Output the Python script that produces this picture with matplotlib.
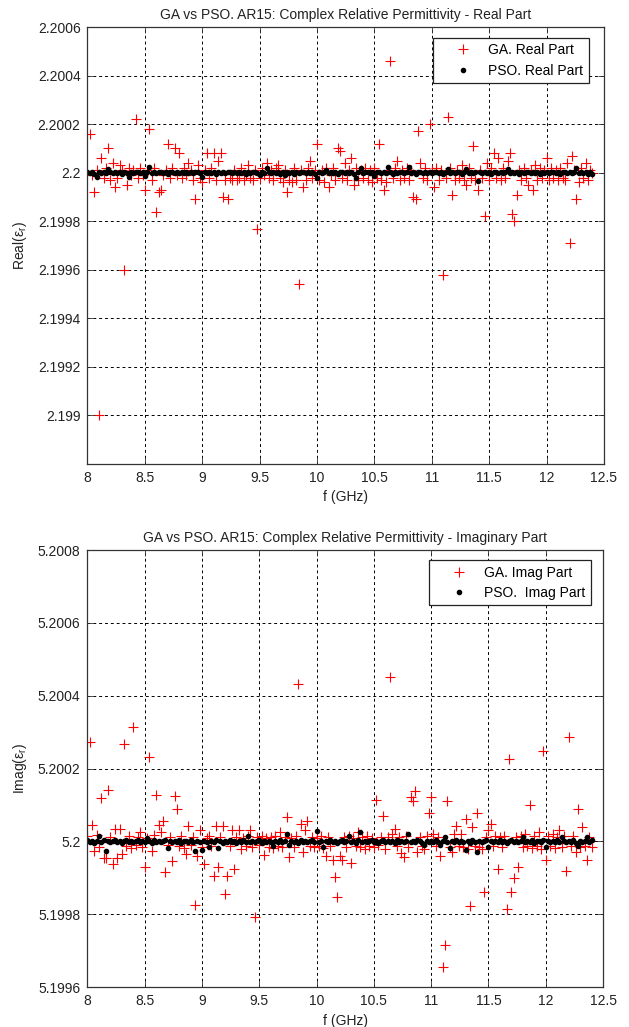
import numpy as np
import matplotlib
matplotlib.use("Agg")
import matplotlib.pyplot as plt

plt.rcParams['font.family'] = ['Liberation Sans', 'DejaVu Sans']
plt.rcParams['mathtext.fontset'] = 'custom'
plt.rcParams['mathtext.rm'] = 'Liberation Sans'
plt.rcParams['mathtext.it'] = 'Liberation Sans'
plt.rcParams['mathtext.default'] = 'regular'

# Frequency sweep, 8.0 to 12.4 GHz in 0.02 GHz steps
freq = np.linspace(8.0, 12.4, 221)

ga_real = [
    2.20000, 2.20016, 2.19999, 2.19992, 2.20001, 2.19900, 2.20006, 2.19998, 2.20002, 2.20010,
    2.19997, 2.20004, 2.19994, 2.19998, 2.20003, 2.20001, 2.19960, 2.19995, 2.20002, 2.19999,
    2.20001, 2.20022, 2.19998, 2.20002, 2.19999, 2.19993, 2.20001, 2.20018, 2.19997, 2.20002,
    2.19984, 2.19992, 2.19993, 2.19999, 2.20001, 2.20012, 2.19998, 2.20002, 2.20010, 2.19999,
    2.20008, 2.19998, 2.20002, 2.19999, 2.20004, 2.20001, 2.19997, 2.19989, 2.20003, 2.19998,
    2.19996, 2.20001, 2.20008, 2.19998, 2.20002, 2.20008, 2.19997, 2.20005, 2.20008, 2.19990,
    2.19997, 2.19989, 2.19998, 2.19997, 2.20001, 2.19997, 2.19998, 2.20002, 2.19997, 2.19999,
    2.20003, 2.19998, 2.19997, 2.20001, 2.19977, 2.19998, 2.20002, 2.19999, 2.20004, 2.19998,
    2.20001, 2.19997, 2.20002, 2.20003, 2.19998, 2.19996, 2.20001, 2.19992, 2.19997, 2.19996,
    2.20002, 2.19997, 2.19954, 2.20001, 2.19994, 2.19997, 2.20002, 2.20005, 2.19998, 2.20001,
    2.20012, 2.19997, 2.20001, 2.19996, 2.20002, 2.19994, 2.19999, 2.20002, 2.19997, 2.20010,
    2.20009, 2.19998, 2.20004, 2.19997, 2.20001, 2.20006, 2.19995, 2.20002, 2.19997, 2.20001,
    2.19998, 2.20002, 2.19997, 2.20001, 2.19996, 2.20002, 2.19998, 2.20012, 2.19997, 2.19993,
    2.19996, 2.20001, 2.20046, 2.19998, 2.20002, 2.20005, 2.19997, 2.20001, 2.19998, 2.20002,
    2.19997, 2.20001, 2.19990, 2.19989, 2.20017, 2.20004, 2.19998, 2.20002, 2.19997, 2.20020,
    2.20001, 2.19994, 2.20002, 2.19997, 2.20001, 2.19958, 2.19998, 2.20023, 2.20002, 2.19991,
    2.19997, 2.20001, 2.19998, 2.20003, 2.19997, 2.19995, 2.20002, 2.19998, 2.20011, 2.19997,
    2.19993, 2.20001, 2.19998, 2.19982, 2.20004, 2.19997, 2.20002, 2.20008, 2.19998, 2.20006,
    2.19997, 2.20002, 2.19998, 2.20005, 2.20008, 2.19983, 2.19980, 2.19991, 2.20001, 2.19997,
    2.20002, 2.19998, 2.19995, 2.20001, 2.19993, 2.20003, 2.19997, 2.20002, 2.19998, 2.20001,
    2.20006, 2.19997, 2.20002, 2.19998, 2.20001, 2.19997, 2.20002, 2.19998, 2.19997, 2.20004,
    2.19971, 2.20007, 2.20001, 2.19989, 2.19996, 2.20002, 2.19998, 2.20004, 2.19997, 2.20001,
    2.20000,
]

pso_real = [
    2.200002, 2.199997, 2.200001, 2.199996, 2.199983, 2.200003, 2.199998, 2.200001, 2.199997, 2.200014,
    2.200004, 2.199998, 2.200002, 2.199999, 2.200003, 2.199996, 2.200001, 2.199998, 2.199983, 2.200002,
    2.199998, 2.200003, 2.200001, 2.199997, 2.200002, 2.199986, 2.200001, 2.200025, 2.199998, 2.200002,
    2.199997, 2.200001, 2.200003, 2.199998, 2.200002, 2.199996, 2.200001, 2.200004, 2.199998, 2.200001,
    2.199997, 2.200002, 2.199999, 2.200003, 2.199997, 2.200001, 2.199998, 2.200002, 2.200004, 2.199997,
    2.199982, 2.200001, 2.199997, 2.200003, 2.199998, 2.200001, 2.199996, 2.200002, 2.199999, 2.200003,
    2.199997, 2.200001, 2.200004, 2.199998, 2.200002, 2.199997, 2.200001, 2.199999, 2.200003, 2.199996,
    2.200002, 2.199998, 2.200001, 2.200004, 2.199997, 2.199989, 2.200002, 2.199998, 2.200018, 2.200001,
    2.199997, 2.200002, 2.199999, 2.200003, 2.199996, 2.200001, 2.199989, 2.200002, 2.199998, 2.200001,
    2.199996, 2.200003, 2.199998, 2.200001, 2.200004, 2.199997, 2.200002, 2.199999, 2.200001, 2.199996,
    2.199977, 2.200002, 2.199998, 2.200003, 2.200012, 2.199997, 2.200001, 2.199998, 2.200002, 2.199996,
    2.200001, 2.200004, 2.199997, 2.200002, 2.199998, 2.200001, 2.199996, 2.199980, 2.200002, 2.200020,
    2.199998, 2.200001, 2.200003, 2.199997, 2.200002, 2.199986, 2.200001, 2.200004, 2.199997, 2.200002,
    2.199998, 2.200024, 2.200001, 2.199996, 2.200003, 2.199998, 2.200001, 2.200002, 2.199997, 2.200003,
    2.200024, 2.199998, 2.200001, 2.199996, 2.200003, 2.200001, 2.199997, 2.200002, 2.199998, 2.200004,
    2.199997, 2.200001, 2.200003, 2.199998, 2.200002, 2.199996, 2.200001, 2.200015, 2.199998, 2.200002,
    2.199997, 2.200003, 2.200001, 2.199996, 2.200002, 2.200016, 2.199998, 2.200001, 2.199997, 2.200003,
    2.199965, 2.200001, 2.199997, 2.200002, 2.199998, 2.200004, 2.199996, 2.200001, 2.200003, 2.199997,
    2.200002, 2.199998, 2.200001, 2.200016, 2.199997, 2.200003, 2.199998, 2.200001, 2.199996, 2.200002,
    2.199998, 2.200001, 2.200004, 2.199997, 2.200002, 2.199998, 2.200001, 2.199996, 2.200003, 2.199998,
    2.200002, 2.199997, 2.200001, 2.200004, 2.199998, 2.200002, 2.199996, 2.200001, 2.200003, 2.199997,
    2.200001, 2.199998, 2.200002, 2.200018, 2.199997, 2.200001, 2.199998, 2.200003, 2.199996, 2.200002,
    2.199995,
]

ga_imag = [
    5.200015, 5.200273, 5.200046, 5.199973, 5.200018, 5.199985, 5.200119, 5.199955, 5.199955, 5.200140,
    5.200012, 5.199938, 5.200035, 5.199955, 5.200035, 5.199965, 5.200267, 5.199988, 5.200015, 5.199982,
    5.200313, 5.199990, 5.200012, 5.200027, 5.199985, 5.199930, 5.200010, 5.200232, 5.199973, 5.200018,
    5.200128, 5.200046, 5.200025, 5.200055, 5.199915, 5.199990, 5.200012, 5.199945, 5.200126, 5.200090,
    5.199988, 5.200015, 5.199982, 5.199966, 5.200041, 5.199990, 5.200012, 5.199826, 5.199960, 5.200030,
    5.199985, 5.199939, 5.200010, 5.200015, 5.199988, 5.199906, 5.200041, 5.199930, 5.200012, 5.200041,
    5.199856, 5.199906, 5.199988, 5.200030, 5.199924, 5.200012, 5.200030, 5.199980, 5.200010, 5.199988,
    5.200015, 5.200030, 5.199985, 5.199792, 5.200012, 5.199990, 5.200015, 5.199963, 5.200010, 5.199985,
    5.200012, 5.199982, 5.200015, 5.199988, 5.200025, 5.199985, 5.200012, 5.200067, 5.199956, 5.200010,
    5.199985, 5.200015, 5.200433, 5.200048, 5.199970, 5.200030, 5.200055, 5.199988, 5.200012, 5.199985,
    5.200010, 5.199988, 5.200015, 5.199982, 5.199960, 5.200012, 5.199988, 5.199950, 5.199902, 5.199846,
    5.199960, 5.199950, 5.200012, 5.199985, 5.200015, 5.199940, 5.200010, 5.199988, 5.200027, 5.199985,
    5.200012, 5.199980, 5.200015, 5.199988, 5.200010, 5.199985, 5.200113, 5.199990, 5.200012, 5.200071,
    5.199980, 5.200012, 5.200451, 5.200020, 5.200034, 5.199988, 5.200012, 5.199968, 5.199956, 5.200015,
    5.199985, 5.200121, 5.200110, 5.200139, 5.199970, 5.200012, 5.199988, 5.199980, 5.200015, 5.200078,
    5.200122, 5.200020, 5.199988, 5.200012, 5.199959, 5.199655, 5.199716, 5.200110, 5.199985, 5.199970,
    5.200020, 5.200041, 5.199988, 5.200020, 5.199985, 5.200062, 5.199980, 5.199823, 5.200040, 5.199988,
    5.200078, 5.199985, 5.199980, 5.199861, 5.200012, 5.200030, 5.200048, 5.199988, 5.200015, 5.199924,
    5.200012, 5.199985, 5.200015, 5.199815, 5.200227, 5.199860, 5.199900, 5.200012, 5.199930, 5.200015,
    5.199985, 5.200020, 5.199988, 5.200100, 5.199982, 5.200015, 5.199988, 5.200025, 5.199980, 5.200249,
    5.199950, 5.200015, 5.199988, 5.200020, 5.199982, 5.200012, 5.200030, 5.199985, 5.200015, 5.199920,
    5.200286, 5.199988, 5.200015, 5.199970, 5.200090, 5.199985, 5.200040, 5.199988, 5.199950, 5.200012,
    5.199985,
]

pso_imag = [
    5.200003, 5.199997, 5.200002, 5.199996, 5.200001, 5.200016, 5.199998, 5.200003, 5.199974, 5.200002,
    5.199997, 5.200001, 5.200004, 5.199998, 5.200002, 5.199996, 5.200001, 5.200003, 5.199997, 5.200002,
    5.199998, 5.200001, 5.200004, 5.199997, 5.200002, 5.199998, 5.200009, 5.200001, 5.199996, 5.200003,
    5.199998, 5.200002, 5.199997, 5.200001, 5.200004, 5.199982, 5.200001, 5.199997, 5.200002, 5.199998,
    5.200003, 5.199996, 5.200001, 5.200002, 5.199997, 5.200003, 5.199998, 5.199974, 5.200002, 5.199997,
    5.199977, 5.200002, 5.199998, 5.199985, 5.200001, 5.199997, 5.200003, 5.199982, 5.200001, 5.199996,
    5.200002, 5.199998, 5.200003, 5.199997, 5.200001, 5.199996, 5.200002, 5.199998, 5.200004, 5.199997,
    5.200014, 5.199998, 5.200002, 5.199997, 5.200001, 5.200003, 5.199996, 5.200002, 5.199998, 5.200001,
    5.199997, 5.199988, 5.200002, 5.199998, 5.200003, 5.199997, 5.200001, 5.200019, 5.199989, 5.200002,
    5.199998, 5.200001, 5.199996, 5.200003, 5.199998, 5.200002, 5.199997, 5.200001, 5.200004, 5.199997,
    5.200029, 5.199998, 5.200002, 5.199984, 5.200001, 5.199997, 5.200003, 5.199998, 5.200002, 5.199996,
    5.200001, 5.200003, 5.199997, 5.200002, 5.200014, 5.199998, 5.200001, 5.199996, 5.200003, 5.200025,
    5.199998, 5.200002, 5.199997, 5.200001, 5.200004, 5.199998, 5.200002, 5.199996, 5.200001, 5.200003,
    5.199997, 5.200002, 5.199998, 5.200001, 5.199996, 5.200003, 5.199998, 5.200002, 5.199997, 5.200001,
    5.200020, 5.199998, 5.200002, 5.199997, 5.200003, 5.200001, 5.199996, 5.199989, 5.200002, 5.199998,
    5.200001, 5.199997, 5.200003, 5.199998, 5.199989, 5.200002, 5.200011, 5.199997, 5.199982, 5.200001,
    5.199998, 5.200003, 5.199997, 5.200002, 5.199998, 5.199977, 5.200001, 5.199996, 5.200003, 5.199998,
    5.199971, 5.200002, 5.199997, 5.200001, 5.200003, 5.199984, 5.200002, 5.199998, 5.200001, 5.199997,
    5.200003, 5.199998, 5.200002, 5.199996, 5.200001, 5.200003, 5.199997, 5.200002, 5.199998, 5.200001,
    5.200012, 5.199997, 5.200002, 5.199998, 5.200003, 5.199996, 5.200001, 5.200002, 5.199997, 5.200003,
    5.199985, 5.200002, 5.199998, 5.200001, 5.199997, 5.200003, 5.199998, 5.200013, 5.200001, 5.199997,
    5.200002, 5.199998, 5.200003, 5.199996, 5.199988, 5.200001, 5.199997, 5.200002, 5.200012, 5.199998,
    5.200003,
]

x_ticks = [8, 8.5, 9, 9.5, 10, 10.5, 11, 11.5, 12, 12.5]
x_tick_labels = ['8', '8.5', '9', '9.5', '10', '10.5', '11', '11.5', '12', '12.5']
real_ticks = [2.199, 2.1992, 2.1994, 2.1996, 2.1998, 2.2, 2.2002, 2.2004, 2.2006]
real_tick_labels = ['2.199', '2.1992', '2.1994', '2.1996', '2.1998', '2.2', '2.2002', '2.2004', '2.2006']
imag_ticks = [5.1996, 5.1998, 5.2, 5.2002, 5.2004, 5.2006, 5.2008]
imag_tick_labels = ['5.1996', '5.1998', '5.2', '5.2002', '5.2004', '5.2006', '5.2008']

TEXT = '#222222'
FS = 10

fig = plt.figure(figsize=(6.29, 10.27), dpi=100)
fig.patch.set_facecolor('white')


def style_axes(ax, yticks, ylabels, ylim):
    ax.set_xlim(8, 12.5)
    ax.set_ylim(*ylim)
    ax.set_xticks(x_ticks)
    ax.set_xticklabels(x_tick_labels)
    ax.set_yticks(yticks)
    ax.set_yticklabels(ylabels)
    ax.tick_params(direction='in', length=4, width=0.6, top=True, right=True,
                   labelsize=FS, labelcolor=TEXT, color='#333333', pad=5)
    ax.grid(True, linestyle=(0, (3, 3)), color='black', linewidth=0.7)
    ax.set_axisbelow(True)
    for sp in ax.spines.values():
        sp.set_color('#333333')
        sp.set_linewidth(0.9)


# Real part
ax1 = fig.add_axes([0.1391, 0.5482, 0.8211, 0.4255])
ax1.plot(freq, ga_real, linestyle='none', marker='+', color='red',
         markersize=7, markeredgewidth=0.8, label='GA. Real Part')
ax1.plot(freq, pso_real, linestyle='none', marker='.', color='black',
         markersize=6, label='PSO. Real Part')
style_axes(ax1, real_ticks, real_tick_labels, (2.1988, 2.2006))
ax1.set_title('GA vs PSO. AR15: Complex Relative Permittivity - Real Part',
              fontsize=FS, color=TEXT, pad=6)
ax1.set_xlabel('f (GHz)', fontsize=FS, color=TEXT, labelpad=4)
ax1.set_ylabel('Real(ε$_r$)', fontsize=FS, color=TEXT, labelpad=6)
leg1 = ax1.legend(loc='upper right', bbox_to_anchor=(0.971, 0.9755),
                  fontsize=FS, frameon=True, fancybox=False, framealpha=1,
                  edgecolor='#222222', borderpad=0.4, handlelength=3.6,
                  handletextpad=0.0, labelspacing=0.45, borderaxespad=0)
leg1.get_frame().set_linewidth(0.9)

# Imaginary part
ax2 = fig.add_axes([0.1391, 0.0389, 0.8196, 0.4255])
ax2.plot(freq, ga_imag, linestyle='none', marker='+', color='red',
         markersize=7, markeredgewidth=0.8, label='GA. Imag Part')
ax2.plot(freq, pso_imag, linestyle='none', marker='.', color='black',
         markersize=6, label='PSO.  Imag Part')
style_axes(ax2, imag_ticks, imag_tick_labels, (5.1996, 5.2008))
ax2.set_title('GA vs PSO. AR15: Complex Relative Permittivity - Imaginary Part',
              fontsize=FS, color=TEXT, pad=6)
ax2.set_xlabel('f (GHz)', fontsize=FS, color=TEXT, labelpad=4)
ax2.set_ylabel('Imag(ε$_r$)', fontsize=FS, color=TEXT, labelpad=6)
leg2 = ax2.legend(loc='upper right', bbox_to_anchor=(0.977, 0.977),
                  fontsize=FS, frameon=True, fancybox=False, framealpha=1,
                  edgecolor='#222222', borderpad=0.4, handlelength=3.6,
                  handletextpad=0.0, labelspacing=0.45, borderaxespad=0)
leg2.get_frame().set_linewidth(0.9)

fig.savefig('out.png', dpi=100, facecolor='white')
